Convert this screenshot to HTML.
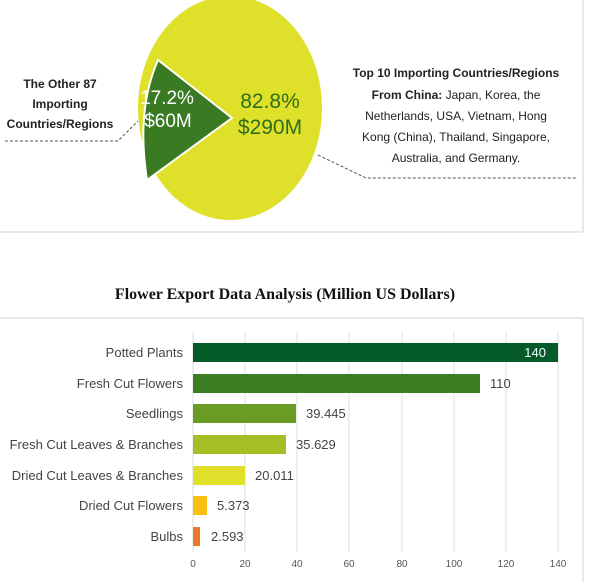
<!DOCTYPE html>
<html><head><style>
body{margin:0;background:#fff;width:600px;height:582px;overflow:hidden;position:relative;font-family:"Liberation Sans",sans-serif}
</style></head><body>
<svg width="600" height="582" xmlns="http://www.w3.org/2000/svg" style="position:absolute;left:0;top:0">
<line x1="583" y1="0" x2="583" y2="232" stroke="#dde3ea" stroke-width="1.5"/>
<line x1="0" y1="232" x2="583" y2="232" stroke="#dde3ea" stroke-width="1.5"/>
<ellipse cx="230" cy="108" rx="92" ry="112" fill="#dfe02a"/>
<path d="M232,118 L158,60 Q136,110 147,180 Z" fill="#3a7a23" stroke="#fff" stroke-width="2"/>
<text x="167" y="104" font-size="19" fill="#fff" text-anchor="middle">17.2%</text>
<text x="168" y="127" font-size="19" fill="#fff" text-anchor="middle">$60M</text>
<text x="270" y="108" font-size="21" fill="#2e6e1a" text-anchor="middle">82.8%</text>
<text x="270" y="134" font-size="21" fill="#2e6e1a" text-anchor="middle">$290M</text>
<g font-size="12" fill="#222" text-anchor="middle">
<text x="60" y="88" font-weight="bold">The Other 87</text>
<text x="60" y="108" font-weight="bold">Importing</text>
<text x="60" y="128" font-weight="bold">Countries/Regions</text>
</g>
<polyline points="5,141 118,141 138,121" fill="none" stroke="#555" stroke-dasharray="3,2"/>
<g font-size="12" fill="#222" text-anchor="middle">
<text x="456" y="77" font-weight="bold">Top 10 Importing Countries/Regions</text>
<text x="456" y="99"><tspan font-weight="bold">From China:</tspan> Japan, Korea, the</text>
<text x="456" y="120">Netherlands, USA, Vietnam, Hong</text>
<text x="456" y="141">Kong (China), Thailand, Singapore,</text>
<text x="456" y="162">Australia, and Germany.</text>
</g>
<polyline points="318,155 366,178 578,178" fill="none" stroke="#555" stroke-dasharray="3,2"/>
<text x="285" y="299" font-family="Liberation Serif,serif" font-weight="bold" font-size="16" fill="#111" text-anchor="middle">Flower Export Data Analysis (Million US Dollars)</text>
<line x1="0" y1="318" x2="583" y2="318" stroke="#dde3ea" stroke-width="1.5"/>
<line x1="583" y1="318" x2="583" y2="582" stroke="#dde3ea" stroke-width="1.5"/>
<g stroke="#dedede" stroke-width="1">
<line x1="193" y1="332" x2="193" y2="552"/>
<line x1="245" y1="332" x2="245" y2="552"/>
<line x1="297" y1="332" x2="297" y2="552"/>
<line x1="349" y1="332" x2="349" y2="552"/>
<line x1="402" y1="332" x2="402" y2="552"/>
<line x1="454" y1="332" x2="454" y2="552"/>
<line x1="506" y1="332" x2="506" y2="552"/>
<line x1="558" y1="332" x2="558" y2="552"/>
</g>
<rect x="193" y="343" width="365" height="19" fill="#045a28"/>
<rect x="193" y="374" width="287" height="19" fill="#3b7d23"/>
<rect x="193" y="404" width="103" height="19" fill="#6a9c24"/>
<rect x="193" y="435" width="93" height="19" fill="#a7bd25"/>
<rect x="193" y="466" width="52" height="19" fill="#e0e02a"/>
<rect x="193" y="496" width="14" height="19" fill="#fbbf10"/>
<rect x="193" y="527" width="7" height="19" fill="#e77a2d"/>
<g font-size="13" fill="#444">
<text x="546" y="357" fill="#fff" text-anchor="end">140</text>
<text x="490" y="388">110</text>
<text x="306" y="418">39.445</text>
<text x="296" y="449">35.629</text>
<text x="255" y="480">20.011</text>
<text x="217" y="510">5.373</text>
<text x="211" y="541">2.593</text>
</g>
<g font-size="13" fill="#444" text-anchor="end">
<text x="183" y="357">Potted Plants</text>
<text x="183" y="388">Fresh Cut Flowers</text>
<text x="183" y="418">Seedlings</text>
<text x="183" y="449">Fresh Cut Leaves &amp; Branches</text>
<text x="183" y="480">Dried Cut Leaves &amp; Branches</text>
<text x="183" y="510">Dried Cut Flowers</text>
<text x="183" y="541">Bulbs</text>
</g>
<g font-size="10" fill="#555" text-anchor="middle">
<text x="193" y="567">0</text><text x="245" y="567">20</text><text x="297" y="567">40</text><text x="349" y="567">60</text>
<text x="402" y="567">80</text><text x="454" y="567">100</text><text x="506" y="567">120</text><text x="558" y="567">140</text>
</g>
</svg>
</body></html>
